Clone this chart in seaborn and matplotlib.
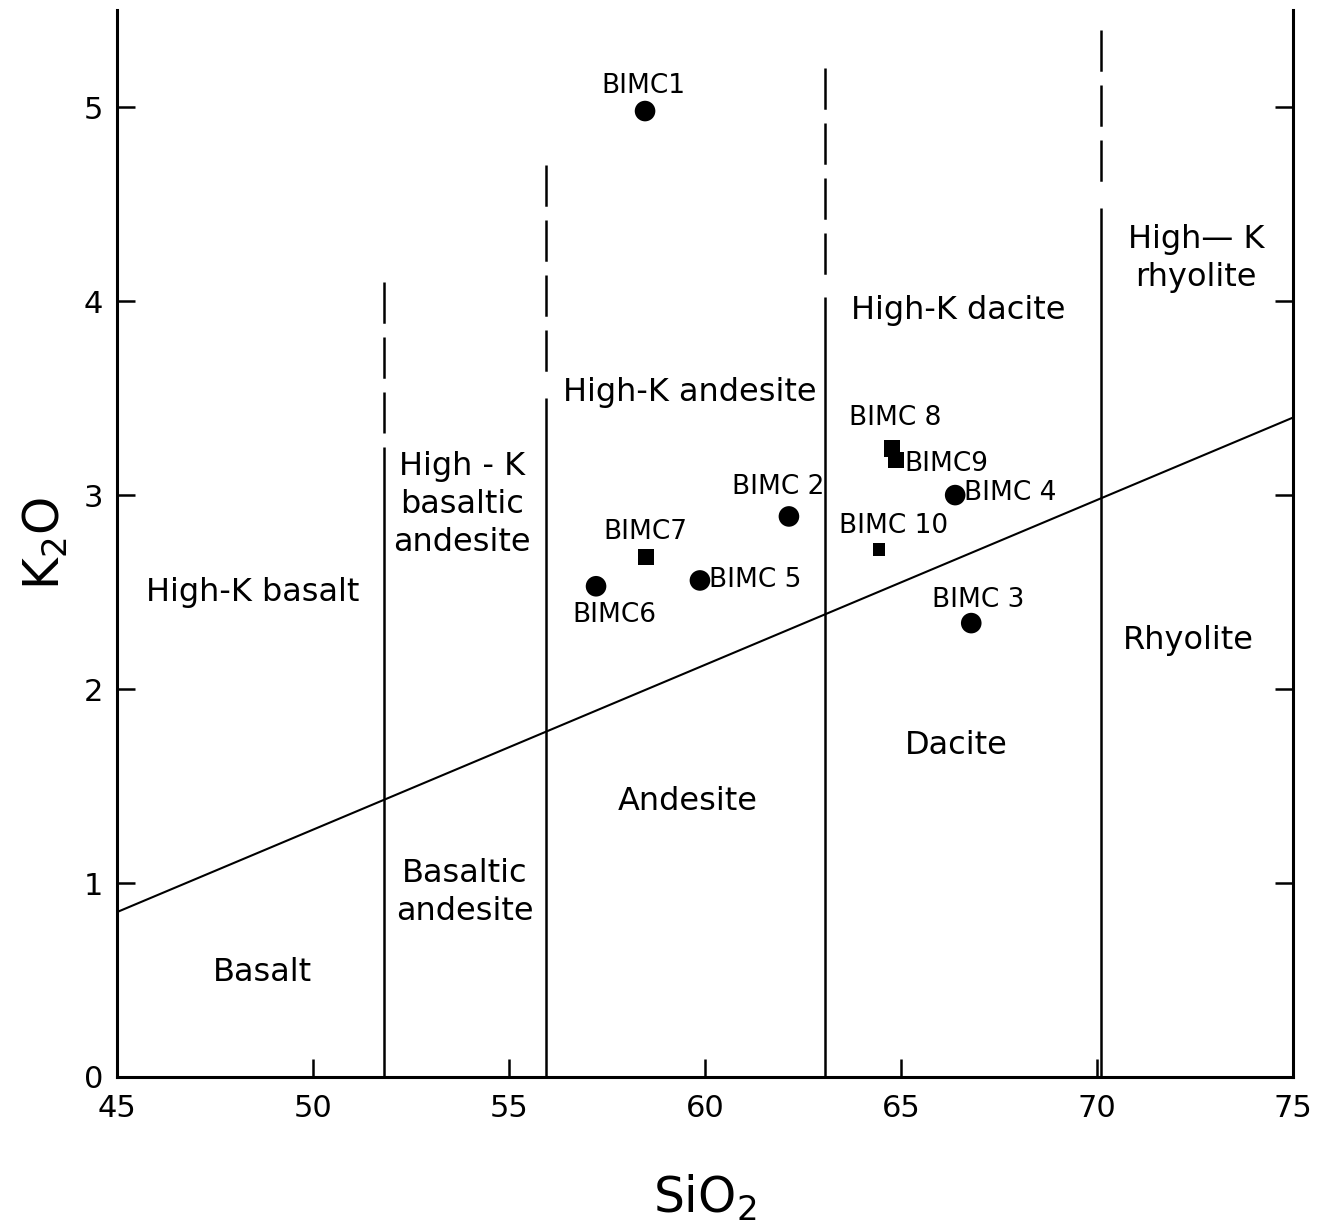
import numpy as np
import pandas as pd
import matplotlib
matplotlib.use("Agg")
import matplotlib.pyplot as plt
import seaborn as sns

# samples (SiO2, K2O)
samples = ["BIMC1", "BIMC2", "BIMC3", "BIMC4", "BIMC5",
           "BIMC6", "BIMC7", "BIMC8", "BIMC9", "BIMC10"]
sample_labels = ["BIMC1", "BIMC 2", "BIMC 3", "BIMC 4", "BIMC 5",
                 "BIMC6", "BIMC7", "BIMC 8", "BIMC9", "BIMC 10"]
sio2 = [58.47, 62.14, 66.79, 66.38, 59.87, 57.22, 58.50, 64.77, 64.87, 64.44]
k2o = [4.98, 2.89, 2.34, 3.00, 2.56, 2.53, 2.68, 3.24, 3.18, 2.72]
kind = ["circle", "circle", "circle", "circle", "circle",
        "circle", "square", "square", "square", "small"]

# boundary between normal and high-K series
divide_x = [45, 75]
divide_y = [0.85, 3.40]

# SiO2 class boundaries: solid part up to solid_top, dashed part up to dash_top
bound_x = [51.8, 55.95, 63.05, 70.1]
solid_top = [3.25, 3.50, 4.02, 4.48]
dash_top = [4.10, 4.70, 5.20, 5.40]

fields = ["High-K basalt", "High - K\nbasaltic\nandesite", "High-K andesite",
          "High-K dacite", "High\u2014 K\nrhyolite",
          "Basalt", "Basaltic\nandesite", "Andesite", "Dacite", "Rhyolite"]
field_x = [48.47, 53.80, 59.62, 66.45, 72.53, 48.72, 53.88, 59.57, 66.40, 72.32]
field_y = [2.50, 2.95, 3.53, 3.95, 4.22, 0.54, 0.95, 1.42, 1.71, 2.25]

# label offsets from each point (data units) and alignment
lab_dx = [-0.05, -0.28, 0.17, 0.22, 0.22, 0.48, -0.03, 0.08, 0.22, 0.36]
lab_dy = [0.13, 0.15, 0.12, 0.01, 0.0, -0.15, 0.13, 0.16, -0.02, 0.12]
lab_ha = ["center", "center", "center", "left", "left",
          "center", "center", "center", "left", "center"]

df = pd.DataFrame({"SiO2": sio2, "K2O": k2o, "kind": kind, "sample": samples})

sns.set_style("white")
plt.rcParams["font.family"] = ["DejaVu Sans"]
plt.rcParams["text.color"] = "black"
plt.rcParams["axes.labelcolor"] = "black"
plt.rcParams["xtick.color"] = "black"
plt.rcParams["ytick.color"] = "black"

fig = plt.figure(figsize=(13.29, 12.29), dpi=100)
ax = fig.add_axes([0.088, 0.1237, 0.885, 0.868])

lw = 1.8
for x, s, d in zip(bound_x, solid_top, dash_top):
    ax.plot([x, x], [0, s], color="black", lw=lw, solid_capstyle="butt")
    ax.plot([x, x], [d, s + 0.07], color="black", lw=lw,
            linestyle=(0, (16.5, 5.5)), dash_capstyle="butt")
ax.plot(divide_x, divide_y, color="black", lw=1.5)

sns.scatterplot(data=df, x="SiO2", y="K2O", style="kind", size="kind",
                markers={"circle": "o", "square": "s", "small": "s"},
                sizes={"circle": 220, "square": 140, "small": 80},
                color="black", edgecolor="none", legend=False, ax=ax, zorder=5)

for lab, x, y, dx, dy, ha in zip(sample_labels, sio2, k2o, lab_dx, lab_dy, lab_ha):
    ax.text(x + dx, y + dy, lab, fontsize=19, ha=ha, va="center")

for t, x, y in zip(fields, field_x, field_y):
    ax.text(x, y, t, fontsize=23, ha="center", va="center",
            linespacing=1.3)

ax.set_xlim(45, 75)
ax.set_ylim(0, 5.5)
ax.set_xticks(range(45, 76, 5))
ax.set_yticks(range(0, 6))
ax.tick_params(direction="in", length=13, width=1.8, labelsize=22,
               right=True, left=True, bottom=True, top=False,
               labelright=False)
ax.tick_params(axis="x", pad=12)
ax.tick_params(axis="y", pad=10)

for side in ["left", "right", "bottom"]:
    ax.spines[side].set_linewidth(2.2)
    ax.spines[side].set_color("black")
ax.spines["top"].set_visible(False)

ax.set_xlabel("SiO$_2$", fontsize=35, labelpad=36)
ax.set_ylabel("K$_2$O", fontsize=35, labelpad=10)

fig.savefig("out.png", dpi=100, facecolor="white")
